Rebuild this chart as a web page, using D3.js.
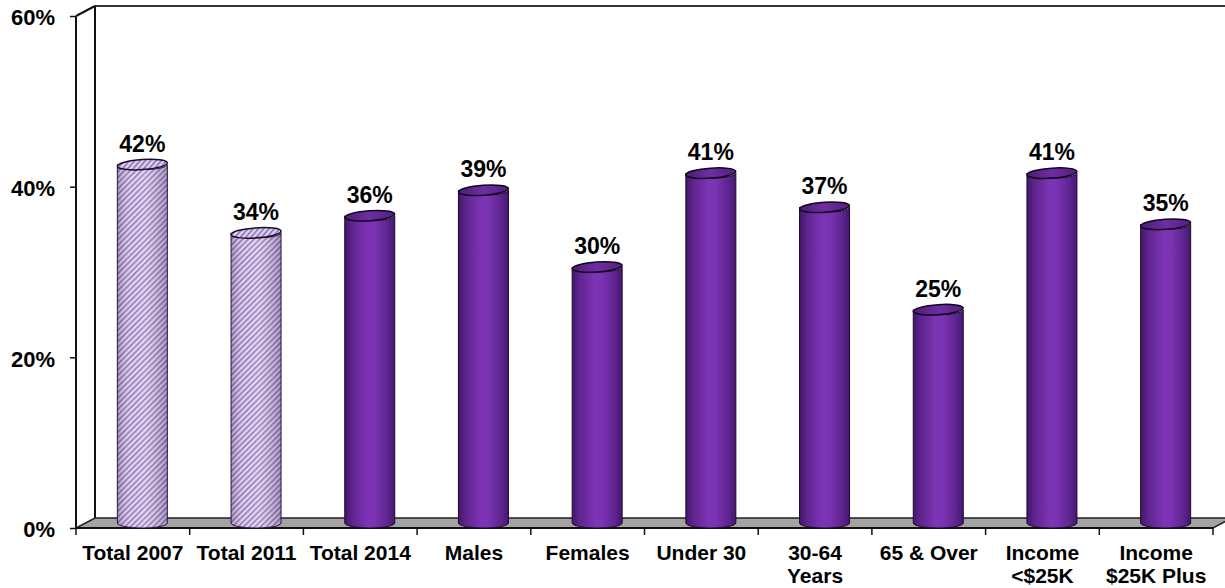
<!DOCTYPE html>
<html>
<head>
<meta charset="utf-8">
<script src="https://cdn.jsdelivr.net/npm/d3@7"></script>
<style>
  html, body { margin: 0; padding: 0; background: #fff; }
  svg { display: block; font-family: "Liberation Sans", Arial, sans-serif; }
</style>
</head>
<body>
<svg id="chart" width="1225" height="588"></svg>
<script>
// Share of respondents by group
const categories = ["Total 2007", "Total 2011", "Total 2014", "Males", "Females",
                    "Under 30", "30-64\nYears", "65 & Over", "Income\n<$25K", "Income\n$25K Plus"];
const values = [42, 34, 36, 39, 30, 41, 37, 25, 41, 35];
const hatched = [true, true, false, false, false, false, false, false, false, false];
const yTicks = [0, 20, 40, 60];

(function draw() {
  const svg = d3.select("#chart");
  const W = 1225;

  // plot frame: front plane plus a shallow depth offset for the 3-D walls
  const plotLeft = 76, plotRight = 1213, plotBottom = 528, plotTop = 16;
  const depthX = 19, depthY = -10;

  const x = d3.scaleBand().domain(categories).range([plotLeft, plotRight]).padding(0);
  const y = d3.scaleLinear().domain([0, 60]).range([plotBottom, plotTop]);

  const defs = svg.append("defs");

  // shading across a solid cylinder
  const grad = defs.append("linearGradient").attr("id", "cylShade")
    .attr("x1", "0%").attr("x2", "100%").attr("y1", "0%").attr("y2", "0%");
  [["0%", "#441668"], ["15%", "#5f248e"], ["45%", "#7c34b4"], ["60%", "#7a33b2"], ["85%", "#5f2590"], ["100%", "#451770"]]
    .forEach(([o, c]) => grad.append("stop").attr("offset", o).attr("stop-color", c));

  const capGrad = defs.append("linearGradient").attr("id", "capShade")
    .attr("x1", "0%").attr("x2", "100%");
  [["0%", "#4e1c76"], ["50%", "#6e2ea2"], ["100%", "#521f7e"]]
    .forEach(([o, c]) => capGrad.append("stop").attr("offset", o).attr("stop-color", c));

  // diagonal hatch for the earlier survey years
  const hatch = defs.append("pattern").attr("id", "hatch")
    .attr("patternUnits", "userSpaceOnUse").attr("width", 4).attr("height", 4)
    .attr("patternTransform", "rotate(45)");
  hatch.append("rect").attr("width", 4).attr("height", 4).attr("fill", "#e0d3f1");
  hatch.append("rect").attr("width", 1.5).attr("height", 4).attr("fill", "#8669ad");

  const soft = defs.append("linearGradient").attr("id", "hatchShade")
    .attr("x1", "0%").attr("x2", "100%");
  [["0%", "rgba(40,10,70,0.28)"], ["30%", "rgba(255,255,255,0.05)"], ["55%", "rgba(255,255,255,0.15)"], ["100%", "rgba(40,10,70,0.28)"]]
    .forEach(([o, c]) => soft.append("stop").attr("offset", o).attr("stop-color", c));

  // back wall and left wall
  const frame = svg.append("g");
  frame.append("line").attr("x1", plotLeft + depthX).attr("x2", W + 10)
    .attr("y1", plotTop + depthY).attr("y2", plotTop + depthY)
    .attr("stroke", "#333").attr("stroke-width", 2);
  frame.append("line").attr("x1", plotLeft + depthX).attr("x2", plotLeft + depthX)
    .attr("y1", plotTop + depthY).attr("y2", plotBottom + depthY)
    .attr("stroke", "#111").attr("stroke-width", 2);
  frame.append("line").attr("x1", plotLeft).attr("x2", plotLeft + depthX)
    .attr("y1", plotTop).attr("y2", plotTop + depthY)
    .attr("stroke", "#111").attr("stroke-width", 2);

  // floor
  frame.append("path")
    .attr("d", `M${plotLeft},${plotBottom} L${plotLeft + depthX},${plotBottom + depthY} L${plotRight + depthX},${plotBottom + depthY} L${plotRight},${plotBottom} Z`)
    .attr("fill", "#a3a3a3").attr("stroke", "#222").attr("stroke-width", 1.5);

  // front vertical axis line and floor front edge
  frame.append("line").attr("x1", plotLeft).attr("x2", plotLeft)
    .attr("y1", plotTop).attr("y2", plotBottom)
    .attr("stroke", "#111").attr("stroke-width", 2);
  frame.append("line").attr("x1", plotLeft).attr("x2", plotRight)
    .attr("y1", plotBottom).attr("y2", plotBottom)
    .attr("stroke", "#111").attr("stroke-width", 2);

  // y axis ticks and labels
  const yAxis = d3.axisLeft(y).tickValues(yTicks).tickSize(6).tickPadding(15)
    .tickFormat(d => d + "%");
  const gy = svg.append("g").attr("transform", `translate(${plotLeft},0)`).call(yAxis);
  gy.select(".domain").remove();
  gy.selectAll(".tick line").attr("stroke", "#111").attr("stroke-width", 1.5);
  gy.selectAll(".tick text")
    .attr("font-size", 22).attr("font-weight", "bold").attr("fill", "#000")
    .attr("font-family", "Liberation Sans, Arial, sans-serif")
    .attr("dy", "0.4em");

  // x axis ticks at category boundaries
  const boundaries = categories.map(c => x(c)).concat([plotRight]);
  svg.append("g").selectAll("line").data(boundaries).join("line")
    .attr("x1", d => d).attr("x2", d => d)
    .attr("y1", plotBottom).attr("y2", plotBottom + 7)
    .attr("stroke", "#111").attr("stroke-width", 1.5);

  // category labels (may wrap onto two lines)
  const catG = svg.append("g");
  categories.forEach(c => {
    const t = catG.append("text")
      .attr("x", x(c) + x.bandwidth() / 2)
      .attr("y", 560)
      .attr("text-anchor", "middle")
      .attr("font-size", 21).attr("font-weight", "bold").attr("fill", "#000");
    c.split("\n").forEach((line, i) => {
      t.append("tspan").attr("x", x(c) + x.bandwidth() / 2)
        .attr("dy", i === 0 ? 0 : 23).text(line);
    });
  });

  // cylinders
  const rx = 25, ry = 5;
  const cx = c => x(c) + x.bandwidth() / 2 + depthX / 2;
  const baseY = plotBottom + depthY / 2;
  const capY = v => y(v) + depthY / 2;

  const bars = svg.append("g");
  categories.forEach((c, i) => {
    const v = values[i];
    const xc = cx(c), yt = capY(v);
    const g = bars.append("g");
    const body = `M${xc - rx},${yt} L${xc - rx},${baseY} A${rx},${ry} 0 0 0 ${xc + rx},${baseY} L${xc + rx},${yt} A${rx},${ry} 0 0 1 ${xc - rx},${yt} Z`;
    if (hatched[i]) {
      g.append("path").attr("d", body).attr("fill", "url(#hatch)");
      g.append("path").attr("d", body).attr("fill", "url(#hatchShade)")
        .attr("stroke", "#2a1740").attr("stroke-width", 1);
      g.append("ellipse").attr("cx", xc).attr("cy", yt).attr("rx", rx).attr("ry", ry)
        .attr("transform", `rotate(-4 ${xc} ${yt})`)
        .attr("fill", "url(#hatch)").attr("stroke", "#1a0d28").attr("stroke-width", 1.5);
    } else {
      g.append("path").attr("d", body).attr("fill", "url(#cylShade)")
        .attr("stroke", "#1e0a30").attr("stroke-width", 1);
      g.append("ellipse").attr("cx", xc).attr("cy", yt).attr("rx", rx).attr("ry", ry)
        .attr("transform", `rotate(-4 ${xc} ${yt})`)
        .attr("fill", "url(#capShade)").attr("stroke", "#12061e").attr("stroke-width", 1.5);
    }
    // value label
    svg.append("text")
      .attr("x", xc).attr("y", yt - 13)
      .attr("text-anchor", "middle")
      .attr("font-size", 23).attr("font-weight", "bold").attr("fill", "#000")
      .text(v + "%");
  });
})();
</script>
</body>
</html>
